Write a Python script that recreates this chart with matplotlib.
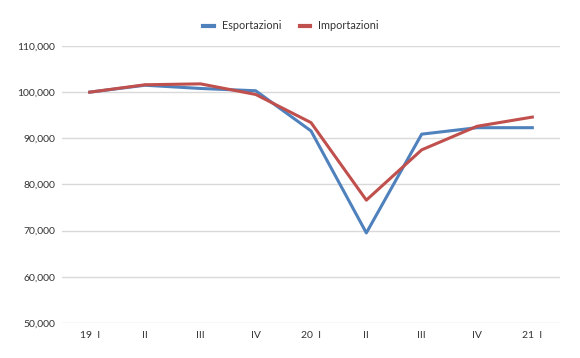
import matplotlib.pyplot as plt
from matplotlib.ticker import FuncFormatter

plt.rcParams['font.family'] = ['Lato', 'DejaVu Sans']

quarters = ['19  I', 'II', 'III', 'IV', '20  I', 'II', 'III', 'IV', '21  I']
esportazioni = [100000, 101500, 100800, 100300, 91600, 69500, 90900, 92300, 92300]
importazioni = [100000, 101600, 101800, 99500, 93400, 76600, 87500, 92600, 94600]

fig = plt.figure(figsize=(5.8, 3.58), dpi=100)
ax = fig.add_axes([0.107, 0.098, 0.8585, 0.7735])

x = range(len(quarters))
ax.plot(x, esportazioni, color='#4F81BD', lw=2.2, label='Esportazioni', zorder=3)
ax.plot(x, importazioni, color='#C0504D', lw=2.2, label='Importazioni', zorder=3)

ax.set_xlim(-0.5, len(quarters) - 0.5)
ax.set_ylim(50000, 110000)
ax.set_yticks(range(50000, 110001, 10000))
ax.yaxis.set_major_formatter(FuncFormatter(lambda v, p: f'{int(v):,}'))
ax.set_xticks(list(x))
ax.set_xticklabels(quarters)
ax.grid(axis='y', color='#d9d9d9', lw=1)
ax.set_axisbelow(True)
for s in ax.spines.values():
    s.set_visible(False)
ax.tick_params(length=0, labelsize=7.5, colors='#333333')
ax.tick_params(axis='y', pad=5)
ax.tick_params(axis='x', pad=6)

leg = fig.legend(loc='upper center', bbox_to_anchor=(0.502, 0.97), ncol=2, frameon=False,
                 fontsize=7.8, handlelength=1.0, handletextpad=0.75, columnspacing=1.65,
                 labelcolor='#333333')
for h in leg.get_lines():
    h.set_linewidth(3.0)

fig.savefig('out.png', dpi=100)
